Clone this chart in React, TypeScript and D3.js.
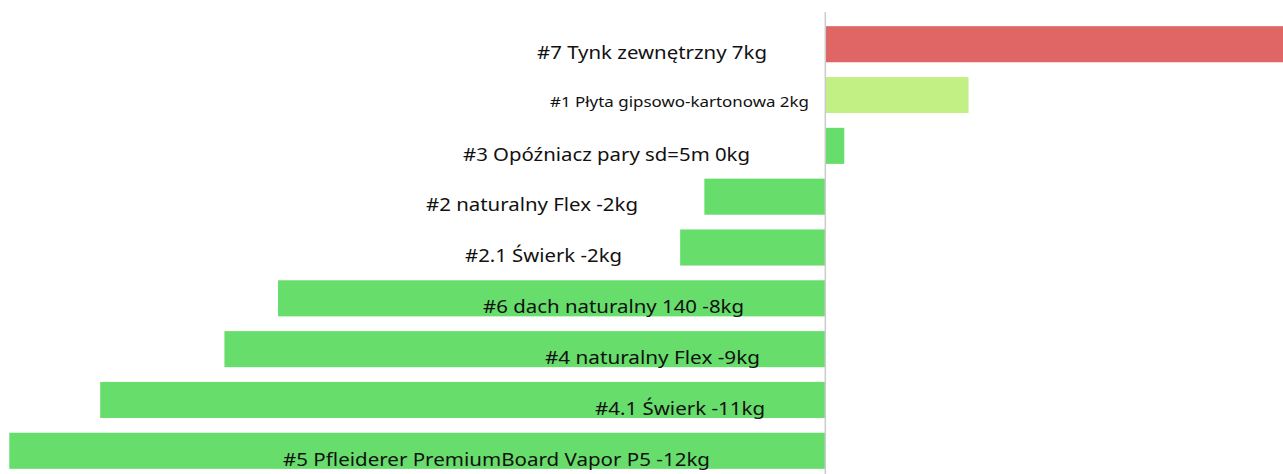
import * as d3 from 'd3'

const names = [
  '#7 Tynk zewnętrzny 7kg',
  '#1 Płyta gipsowo-kartonowa 2kg',
  '#3 Opóźniacz pary sd=5m 0kg',
  '#2 naturalny Flex -2kg',
  '#2.1 Świerk -2kg',
  '#6 dach naturalny 140 -8kg',
  '#4 naturalny Flex -9kg',
  '#4.1 Świerk -11kg',
  '#5 Pfleiderer PremiumBoard Vapor P5 -12kg',
]
const values = [7.0, 2.19, 0.29, -1.85, -2.22, -8.37, -9.19, -11.09, -12.48]

// label layout (right edge px, font size, width px)
const labelEnd = [767, 809, 750, 638, 622, 744, 760, 765, 710]
const labelSize = [18, 14, 18, 18, 18, 18, 18, 18, 18]
const labelWidth = [230, 259, 287, 212, 157, 261, 215, 170, 427]

const W = 1283
const H = 474

const color = d3
  .scaleThreshold<number, string>()
  .domain([1, 5])
  .range(['#67dd6b', '#c3f085', '#e06666'])

export default function App() {
  const x = d3.scaleLinear().domain([-12.5, 7.0]).range([8, W])
  const y = d3
    .scaleBand<string>()
    .domain(names)
    .range([16, 479])
    .paddingInner(0.29)
    .paddingOuter(0.2)

  const x0 = x(0)

  return (
    <svg
      width={W}
      height={H}
      style={{ position: 'absolute', left: 0, top: 0, background: 'white' }}
      fontFamily="'Noto Sans', 'Open Sans', sans-serif"
    >
      {names.map((n, i) => {
        const v = values[i]
        const y0 = y(n) ?? 0
        return (
          <rect
            key={n}
            x={Math.min(x(v), x0)}
            y={y0}
            width={Math.abs(x(v) - x0)}
            height={y.bandwidth()}
            fill={color(v)}
          />
        )
      })}
      <line x1={x0} x2={x0} y1={12} y2={H} stroke="#cccccc" strokeWidth={1.5} />
      {names.map((n, i) => {
        const y0 = y(n) ?? 0
        const cy = y0 + y.bandwidth() / 2
        return (
          <text
            key={'l' + n}
            x={labelEnd[i] - labelWidth[i]}
            y={cy + labelSize[i] * 0.82}
            fontSize={labelSize[i]}
            fill="#111"
            textLength={labelWidth[i]}
            lengthAdjust="spacingAndGlyphs"
          >
            {n}
          </text>
        )
      })}
    </svg>
  )
}
